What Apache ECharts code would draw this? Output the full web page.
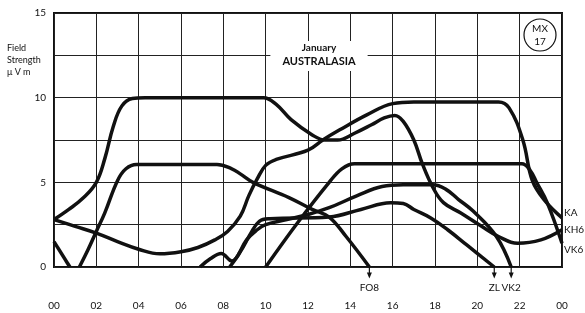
<!DOCTYPE html>
<html>
<head>
<meta charset="utf-8">
<script src="https://cdn.jsdelivr.net/npm/echarts@6/dist/echarts.min.js"></script>
<style>
html, body { margin: 0; padding: 0; background: #fff; }
#chart { width: 585px; height: 313px; }
</style>
</head>
<body>
<div id="chart"></div>
<script>
// hours are GMT, 0..24 (the last "00" is midnight again)
const hourTicks = ['00', '02', '04', '06', '08', '10', '12', '14', '16', '18', '20', '22', '00'];
const yTicks = [0, 5, 10, 15];

// [hour, field strength uV/m]
const curveKA = [[0, 2.8], [1, 2.4], [2, 2.0], [3, 1.5], [4, 1.05], [5, 0.78], [6, 0.9], [6.8, 1.15],
  [7.6, 1.6], [8.2, 2.1], [8.8, 3.0], [9.2, 4.2], [9.6, 5.2], [10, 6.0], [10.5, 6.35], [12, 6.9],
  [12.7, 7.5], [13.5, 8.1], [14.8, 9.0], [16, 9.65], [17, 9.75], [21, 9.75], [21.5, 9.4],
  [22.15, 7.5], [22.6, 5.1], [23.2, 3.9], [24, 2.9]];
const curveKH6 = [[0, 2.8], [0.7, 3.4], [1.4, 4.1], [2, 5.0], [2.4, 6.4], [2.8, 8.3], [3.2, 9.5],
  [3.7, 9.95], [4.3, 10], [9.9, 10], [10.5, 9.6], [11.2, 8.7], [12.2, 7.8], [12.8, 7.5], [13.4, 7.5],
  [14.2, 7.9], [15, 8.4], [15.6, 8.8], [16.1, 8.95], [16.5, 8.6], [17, 7.5], [17.4, 6.1],
  [17.9, 4.7], [18.4, 3.8], [19.2, 3.2], [20.2, 2.4], [21, 1.8], [21.9, 1.4], [23, 1.6], [24, 2.2]];
const curveVK6 = [[10, 0], [11.5, 2.6], [13, 5.0], [13.6, 5.8], [14.2, 6.1], [22.1, 6.1], [22.5, 5.7],
  [22.8, 5.0], [23.3, 3.8], [24, 1.4]];
const curveVK6Dawn = [[0, 1.5], [0.75, 0]];
const curveFO8 = [[1.2, 0], [1.6, 1.0], [2, 2.1], [2.4, 3.2], [3, 5.1], [3.4, 5.8], [3.9, 6.05],
  [7.7, 6.05], [8.4, 5.8], [8.8, 5.5], [9.4, 5.0], [11.1, 4.1], [12.2, 3.4], [13, 2.95],
  [13.8, 1.8], [14.9, 0]];
const curveZL = [[6.9, 0], [7.4, 0.5], [7.9, 0.8], [8.4, 0.35], [8.8, 0.9], [9.3, 2.0], [9.7, 2.7],
  [10.2, 2.85], [13, 2.95], [14.5, 3.4], [15.9, 3.8], [16.5, 3.75], [17, 3.4], [17.8, 2.9],
  [18.6, 2.2], [19.5, 1.3], [20.8, 0]];
const curveVK2 = [[8.3, 0], [8.7, 0.7], [9.1, 1.6], [9.6, 2.2], [10, 2.5], [11, 2.8], [12, 3.1],
  [13, 3.5], [14.3, 4.2], [15.5, 4.75], [16.5, 4.85], [17.9, 4.85], [18.5, 4.6], [19.1, 4.0],
  [19.8, 3.3], [20.9, 1.8], [21.6, 0]];

// stations whose curve drops out below the axis
const arrowHours = [14.9, 20.8, 21.6];
const arrowNames = ['FO8', 'ZL', 'VK2'];

const font = 'Lato, "Open Sans", sans-serif';

function curve(data, label, offset) {
  let s = {
    type: 'line',
    data: data,
    smooth: 0.4,
    showSymbol: false,
    lineStyle: { color: '#111', width: 3.5 },
    z: 5
  };
  if (label) {
    s.endLabel = {
      show: true, formatter: label, color: '#111', fontFamily: font,
      fontSize: 10, distance: 2, offset: offset
    };
  }
  return s;
}

let series = [
  curve(curveKA, 'KA', [0, -5]),
  curve(curveKH6, 'KH6', [0, 0]),
  curve(curveVK6, 'VK6', [0, 6]),
  curve(curveVK6Dawn),
  curve(curveFO8),
  curve(curveZL),
  curve(curveVK2)
];

arrowHours.forEach(function (h, i) {
  series.push({
    type: 'line',
    clip: false,
    showSymbol: true,
    lineStyle: { color: '#111', width: 1.2 },
    data: [
      { value: [h, 0], symbol: 'none' },
      {
        value: [h, -0.5], symbol: 'triangle', symbolRotate: 180, symbolSize: [5, 6],
        itemStyle: { color: '#111' },
        label: {
          show: true, position: 'bottom', distance: 4, formatter: arrowNames[i],
          color: '#111', fontFamily: font, fontSize: 10
        }
      }
    ],
    z: 4
  });
});

let chart = echarts.init(document.getElementById('chart'));
chart.setOption({
  animation: false,
  backgroundColor: '#fff',
  title: {
    text: 'January',
    subtext: 'AUSTRALASIA',
    left: 307,
    top: 41,
    textAlign: 'center',
    backgroundColor: '#fff',
    padding: [2, 12, 4, 12],
    itemGap: 3,
    textStyle: { fontFamily: font, fontSize: 10, fontWeight: 'bold', color: '#111' },
    subtextStyle: { fontFamily: font, fontSize: 11, fontWeight: 'bold', color: '#111' }
  },
  grid: {
    left: 54, right: 23, top: 13, bottom: 46,
    show: true, borderColor: '#111', borderWidth: 2,
    outerBoundsMode: 'none'
  },
  xAxis: {
    type: 'value',
    min: 0, max: 24, interval: 2,
    axisLine: { show: false },
    axisTick: { show: false },
    splitLine: { show: true, lineStyle: { color: '#222', width: 1 } },
    axisLabel: {
      margin: 34, color: '#111', fontFamily: font, fontSize: 10,
      formatter: function (v) { return hourTicks[v / 2]; }
    }
  },
  yAxis: {
    type: 'value',
    min: 0, max: 15, interval: 2.5,
    axisLine: { show: false },
    axisTick: { show: false },
    splitLine: { show: true, lineStyle: { color: '#222', width: 1 } },
    axisLabel: {
      margin: 8, color: '#111', fontFamily: font, fontSize: 10,
      formatter: function (v) { return yTicks.indexOf(v) >= 0 ? String(v) : ''; }
    }
  },
  graphic: [
    {
      type: 'text', left: 7, top: 42,
      style: { text: 'Field\nStrength\nμ V m', fill: '#111', font: '9px ' + font, lineHeight: 12 }
    },
    {
      type: 'circle', shape: { cx: 540, cy: 35, r: 16 },
      style: { fill: '#fff', stroke: '#111', lineWidth: 1.2 }, z: 10
    },
    {
      type: 'text', x: 540, y: 35, z: 11,
      style: {
        text: 'MX\n17', fill: '#111', font: '10px ' + font, lineHeight: 13,
        textAlign: 'center', textVerticalAlign: 'middle'
      }
    }
  ],
  series: series
});
</script>
</body>
</html>
